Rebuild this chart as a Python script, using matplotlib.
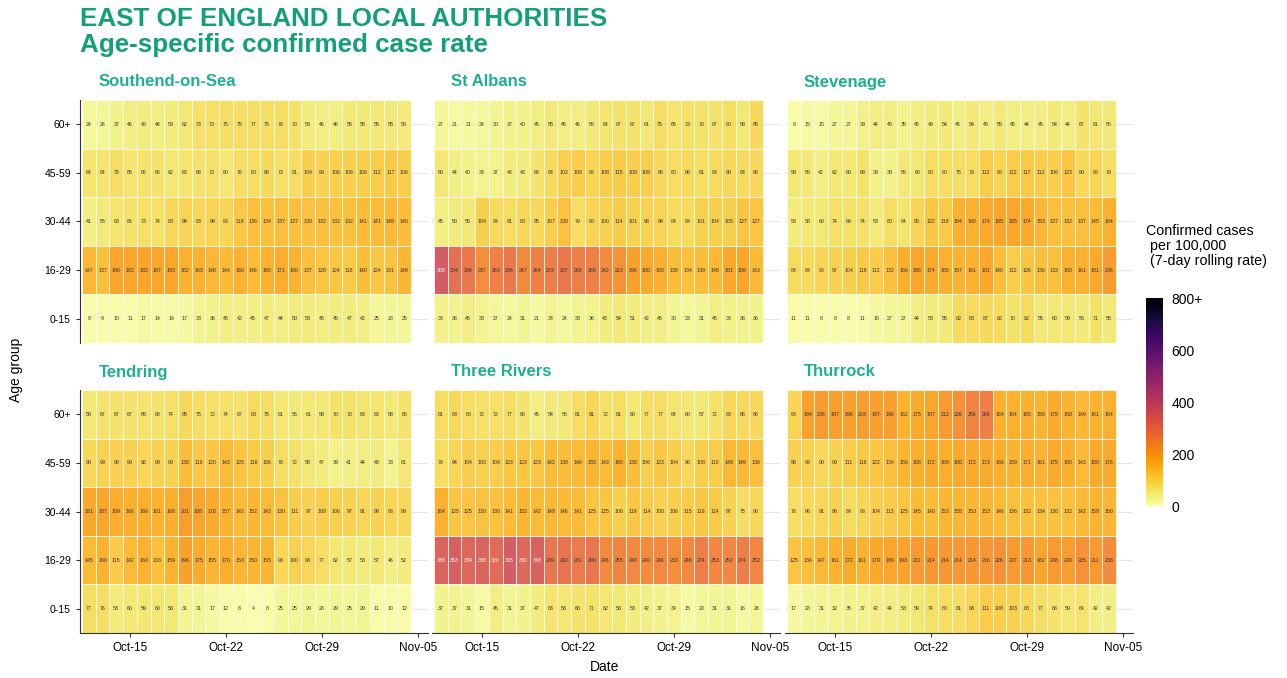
import datetime as dt
import numpy as np
import matplotlib
matplotlib.use("Agg")
import matplotlib.pyplot as plt
import matplotlib.dates as mdates
from matplotlib.colors import Normalize
from matplotlib.cm import ScalarMappable

plt.rcParams['font.family'] = ['Liberation Sans', 'DejaVu Sans']

# age groups, top row of each panel first
age_groups = ["60+", "45-59", "30-44", "16-29", "0-15"]
first_day = dt.date(2020, 10, 12)
n_days = 24
dates = [first_day + dt.timedelta(days=i) for i in range(n_days)]
tick_dates = [dt.date(2020, 10, 15), dt.date(2020, 10, 22), dt.date(2020, 10, 29), dt.date(2020, 11, 5)]

southend = [
    [24, 26, 37, 46, 48, 46, 53, 62, 73, 73, 75, 75, 77, 75, 79, 70, 53, 46, 46, 55, 55, 55, 55, 50],
    [64, 64, 75, 65, 66, 66, 62, 63, 68, 73, 60, 76, 80, 86, 73, 81, 104, 99, 106, 106, 106, 112, 117, 106],
    [41, 56, 63, 66, 73, 74, 88, 94, 88, 94, 96, 119, 136, 134, 137, 137, 130, 132, 132, 132, 141, 141, 149, 140],
    [147, 137, 186, 182, 182, 187, 183, 162, 163, 148, 144, 160, 146, 160, 171, 160, 137, 128, 124, 118, 140, 124, 131, 149],
    [8, 9, 10, 11, 17, 14, 14, 17, 33, 36, 45, 42, 45, 47, 44, 50, 53, 45, 45, 47, 42, 25, 28, 25],
]
st_albans = [
    [27, 21, 21, 24, 30, 37, 40, 45, 55, 45, 46, 56, 64, 67, 67, 61, 75, 65, 73, 70, 67, 80, 58, 85],
    [60, 44, 40, 34, 37, 48, 48, 68, 84, 102, 108, 96, 108, 115, 108, 109, 86, 80, 86, 81, 84, 90, 84, 86],
    [45, 50, 55, 104, 84, 81, 88, 85, 107, 130, 79, 96, 100, 114, 101, 98, 94, 84, 84, 101, 104, 105, 127, 127],
    [368, 304, 286, 237, 263, 286, 247, 264, 273, 287, 268, 268, 242, 223, 196, 180, 165, 138, 134, 139, 148, 181, 186, 143],
    [38, 36, 45, 33, 27, 24, 31, 21, 34, 24, 33, 36, 48, 54, 51, 42, 45, 30, 23, 31, 45, 38, 36, 36],
]
stevenage = [
    [8, 15, 15, 27, 27, 39, 44, 45, 35, 45, 49, 54, 45, 54, 45, 55, 45, 44, 45, 54, 44, 67, 61, 56],
    [58, 56, 42, 62, 60, 69, 39, 39, 56, 60, 80, 80, 75, 79, 112, 96, 112, 117, 112, 106, 123, 90, 96, 79],
    [53, 58, 60, 74, 69, 74, 53, 80, 64, 95, 122, 118, 164, 160, 174, 185, 185, 174, 153, 137, 132, 137, 145, 164],
    [84, 84, 96, 97, 104, 118, 112, 132, 166, 186, 174, 165, 157, 161, 181, 140, 112, 126, 136, 132, 160, 161, 181, 206],
    [11, 11, 8, 8, 8, 11, 16, 27, 27, 44, 53, 55, 82, 83, 87, 82, 70, 82, 55, 60, 59, 56, 71, 55],
]
tendring = [
    [58, 67, 67, 67, 65, 68, 74, 85, 75, 72, 74, 67, 83, 75, 61, 56, 61, 58, 70, 70, 63, 63, 58, 66],
    [90, 99, 98, 99, 92, 99, 99, 138, 119, 120, 143, 125, 116, 106, 78, 72, 58, 47, 39, 41, 44, 49, 33, 61],
    [181, 187, 169, 166, 166, 161, 168, 201, 188, 178, 157, 142, 152, 142, 130, 111, 97, 108, 106, 97, 91, 98, 96, 89],
    [145, 160, 115, 142, 160, 133, 159, 196, 175, 155, 170, 153, 150, 155, 93, 100, 93, 77, 62, 57, 53, 57, 46, 52],
    [77, 76, 53, 60, 59, 60, 58, 31, 31, 17, 12, 8, 4, 8, 25, 25, 29, 28, 29, 25, 29, 11, 10, 12],
]
three_rivers = [
    [81, 88, 80, 72, 72, 77, 68, 45, 54, 56, 81, 91, 72, 81, 60, 77, 77, 64, 60, 57, 72, 88, 86, 86],
    [79, 94, 104, 100, 109, 123, 123, 123, 142, 138, 146, 155, 143, 160, 138, 106, 123, 104, 90, 108, 110, 149, 149, 136],
    [164, 125, 125, 130, 130, 141, 152, 142, 149, 146, 141, 125, 125, 106, 119, 114, 100, 106, 115, 119, 114, 97, 75, 90],
    [338, 353, 334, 338, 320, 365, 330, 348, 289, 292, 281, 290, 246, 255, 248, 240, 246, 233, 246, 274, 253, 252, 274, 252],
    [37, 37, 31, 15, 45, 31, 37, 47, 63, 58, 68, 71, 62, 58, 53, 42, 37, 34, 15, 28, 31, 31, 16, 26],
]
thurrock = [
    [96, 194, 206, 197, 196, 203, 197, 196, 162, 175, 187, 212, 226, 256, 266, 164, 164, 165, 156, 175, 158, 149, 161, 164],
    [98, 99, 90, 99, 111, 116, 122, 134, 156, 168, 172, 169, 180, 172, 173, 166, 159, 171, 161, 175, 165, 143, 180, 176],
    [78, 86, 91, 98, 84, 96, 104, 113, 125, 145, 140, 153, 155, 153, 153, 146, 136, 132, 134, 130, 132, 142, 159, 150],
    [125, 136, 147, 161, 172, 161, 179, 186, 193, 211, 214, 214, 214, 214, 216, 226, 207, 213, 182, 208, 200, 225, 211, 238],
    [17, 28, 31, 32, 35, 37, 42, 44, 53, 59, 74, 80, 81, 93, 111, 108, 103, 88, 77, 68, 59, 64, 42, 42],
]

areas = ["Southend-on-Sea", "St Albans", "Stevenage", "Tendring", "Three Rivers", "Thurrock"]
area_data = [southend, st_albans, stevenage, tendring, three_rivers, thurrock]

W, H = 1287, 678
fig = plt.figure(figsize=(W / 100, H / 100), dpi=100)
teal = "#139f7c"
strip_teal = "#1fae95"
cmap = plt.get_cmap("inferno_r")
norm = Normalize(0, 800)

fig.text(80 / W, 1 - 7 / H, "EAST OF ENGLAND LOCAL AUTHORITIES", color=teal,
         fontsize=18.7, fontweight="bold", va="top", ha="left")
fig.text(80 / W, 1 - 33 / H, "Age-specific confirmed case rate", color=teal,
         fontsize=18.7, fontweight="bold", va="top", ha="left")

col_x = [80, 432, 785]
row_y = [100, 390]
pw, ph = 348, 243
cell_px = 13.71

x = mdates.date2num(dates)
x_edges = np.append(x - 0.5, x[-1] + 0.5)
y_edges = np.arange(len(age_groups) + 1) - 0.5

for k, (name, vals) in enumerate(zip(areas, area_data)):
    r, c = divmod(k, 3)
    ax = fig.add_axes([col_x[c] / W, 1 - (row_y[r] + ph) / H, pw / W, ph / H])
    z = np.array(vals, dtype=float)
    ax.set_axisbelow(True)
    ax.pcolormesh(x_edges, y_edges, z, cmap=cmap, norm=norm, alpha=0.85,
                  edgecolors=(1, 1, 1, 0.6), linewidth=0.6, zorder=2)
    for i in range(z.shape[0]):
        for j in range(z.shape[1]):
            v = z[i, j]
            ax.text(x[j], i, f"{int(v)}", ha="center", va="center", fontsize=3.8,
                    color="white" if v > 310 else "#333333", zorder=3)
    ax.set_ylim(len(age_groups) - 0.5, -0.5)
    ax.set_xlim(x[0] - 0.5 - 2 / cell_px, x[-1] + 0.5 + 17 / cell_px)
    ax.set_yticks(range(len(age_groups)))
    ax.yaxis.grid(True, color="#e6e6e6", linewidth=0.8, zorder=0)
    ax.xaxis.grid(False)
    ax.set_xticks(mdates.date2num(tick_dates))
    for s in ["top", "right"]:
        ax.spines[s].set_visible(False)
    if c == 0:
        ax.set_yticklabels(age_groups, fontsize=7.5)
        ax.spines["left"].set_color("#333333")
        ax.tick_params(axis="y", length=3, color="#333333")
    else:
        ax.set_yticklabels([])
        ax.spines["left"].set_visible(False)
        ax.tick_params(axis="y", length=0)
    if r == 1:
        ax.set_xticklabels([d.strftime("%b-%d") for d in tick_dates], fontsize=8.5)
        ax.spines["bottom"].set_color("#333333")
        ax.tick_params(axis="x", length=3, color="#333333")
    else:
        ax.set_xticklabels([])
        ax.spines["bottom"].set_visible(False)
        ax.tick_params(axis="x", length=0)
    fig.text((col_x[c] + 19) / W, 1 - (row_y[r] - 18) / H, name, color=strip_teal,
             fontsize=12, fontweight="bold", va="center", ha="left")

fig.text(605 / W, 1 - 667 / H, "Date", fontsize=10, ha="center", va="center")
fig.text(16 / W, 1 - 370 / H, "Age group", fontsize=10, ha="center", va="center", rotation=90)

# colour legend
cax = fig.add_axes([1146 / W, 1 - 506 / H, 17 / W, 208 / H])
cb = fig.colorbar(ScalarMappable(norm=norm, cmap=cmap), cax=cax)
cb.outline.set_visible(False)
cb.set_ticks([0, 200, 400, 600, 800])
cb.set_ticklabels(["0", "200", "400", "600", "800+"])
cb.ax.tick_params(labelsize=10, length=0, pad=6)
fig.text(1146 / W, 1 - 224 / H, "Confirmed cases\n per 100,000\n (7-day rolling rate)",
         fontsize=10.3, ha="left", va="top", linespacing=1.1)

fig.savefig("out.png", dpi=100)
